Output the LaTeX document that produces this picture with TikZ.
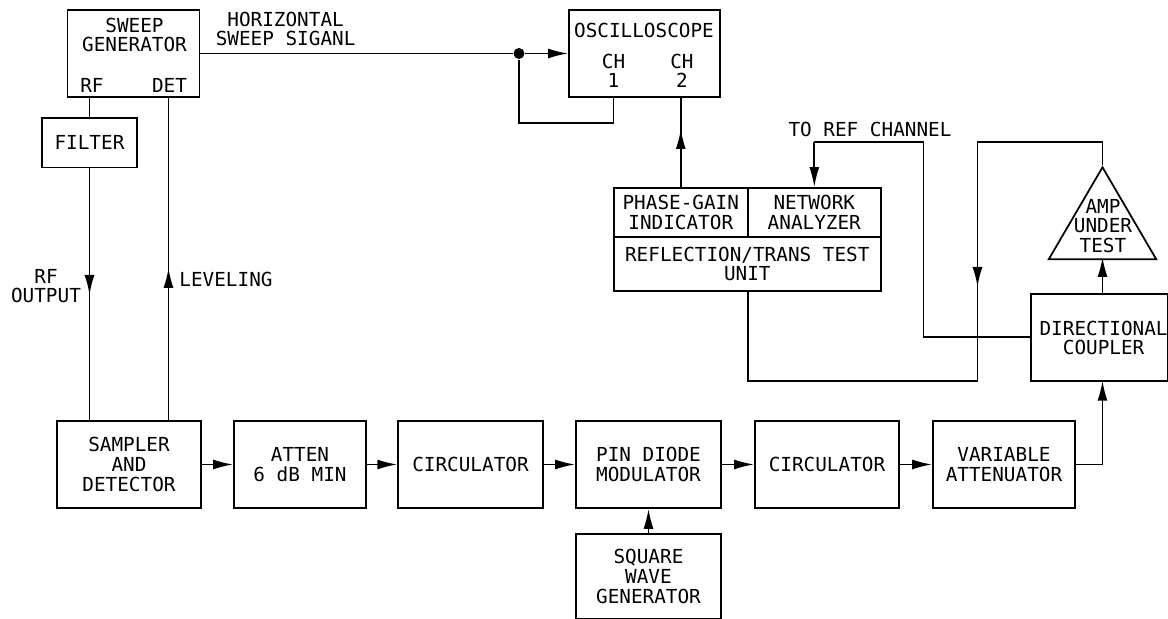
\documentclass[tikz,border=0pt]{standalone}
\usepackage{fontspec}
\setmainfont{DejaVu Sans Mono}
\usetikzlibrary{arrows.meta,positioning,shapes.geometric}
\tikzset{
  box/.style={draw,line width=.5pt,align=center,inner sep=0pt,font=\fontsize{5.5}{5.6}\selectfont},
  txt/.style={align=center,inner sep=0pt,font=\fontsize{5.5}{5.6}\selectfont},
  wire/.style={line width=.5pt},
  tip/.style={line width=.5pt,-{Latex[length=.2cm,width=.1cm]}},
  dot/.style={circle,fill=black,inner sep=0pt,minimum size=.11cm}
}
\begin{document}
\begin{tikzpicture}
\useasboundingbox (0,0) rectangle (11.68,6.19);
\node[box,minimum width=1.32cm,minimum height=.87cm] (sweep) at (1.336,5.655) {};
\node[txt] (sweeptxt) at (1.345,5.84) {SWEEP\\GENERATOR};
\node[txt] (rf) at (.92,5.34) {RF};
\node[txt] (det) at (1.695,5.34) {DET};
\node[box,minimum width=.95cm,minimum height=.495cm] (filter) at (.895,4.7625) {FILTER};
\node[box,minimum width=1.51cm,minimum height=.87cm] (osc) at (6.445,5.655) {};
\node[txt] (osctxt) at (6.44,5.89) {OSCILLOSCOPE};
\node[txt] (ch1) at (6.135,5.48) {CH\\1};
\node[txt] (ch2) at (6.82,5.48) {CH\\2};
\node[dot] (branch) at (5.19,5.655) {};
\node[txt] (horiz) at (2.856,5.90) {HORIZONTAL\\SWEEP SIGANL};
\node[txt] (rfout) at (.46,3.33) {RF\\OUTPUT};
\node[txt] (level) at (2.26,3.40) {LEVELING};
\node[txt] (toref) at (8.70,4.90) {TO REF CHANNEL};
\node[box,minimum width=1.34cm,minimum height=.487cm] (phase) at (6.808,4.0665) {PHASE-GAIN\\INDICATOR};
\node[box,minimum width=1.33cm,minimum height=.487cm] (net) at (8.143,4.0665) {NETWORK\\ANALYZER};
\node[box,minimum width=2.67cm,minimum height=.543cm] (test) at (7.473,3.5515) {REFLECTION/TRANS TEST\\UNIT};
\node[draw,line width=.5pt,isosceles triangle,shape border rotate=90,isosceles triangle stretches,minimum width=1.075cm,minimum height=.92cm,inner sep=0pt,anchor=apex] (amp) at (11.025,4.54) {};
\node[txt] (amptxt) at (11.03,3.93) {AMP\\UNDER\\TEST};
\node[box,minimum width=1.365cm,minimum height=.867cm] (coupler) at (10.995,2.8165) {};
\node[txt] (couplertxt) at (11.036,2.81) {DIRECTIONAL\\COUPLER};
\node[box,minimum width=1.44cm,minimum height=.87cm] (sampler) at (1.29,1.545) {SAMPLER\\AND\\DETECTOR};
\node[box,minimum width=1.32cm,minimum height=.87cm] (atten) at (3.0,1.545) {ATTEN\\6 dB MIN};
\node[box,minimum width=1.445cm,minimum height=.87cm] (circa) at (4.705,1.545) {CIRCULATOR};
\node[box,minimum width=1.45cm,minimum height=.87cm] (pin) at (6.485,1.545) {PIN DIODE\\MODULATOR};
\node[box,minimum width=1.44cm,minimum height=.87cm] (circb) at (8.27,1.545) {CIRCULATOR};
\node[box,minimum width=1.42cm,minimum height=.87cm] (var) at (10.04,1.545) {VARIABLE\\ATTENUATOR};
\node[box,minimum width=1.45cm,minimum height=.842cm] (square) at (6.485,.426) {SQUARE\\WAVE\\GENERATOR};
\coordinate (rftop) at (.895,5.22);
\coordinate (rftip) at (.895,3.24);
\coordinate (rfbot) at (.895,1.98);
\coordinate (dettop) at (1.685,5.22);
\coordinate (dettip) at (1.685,3.51);
\coordinate (detbot) at (1.685,1.98);
\coordinate (loop) at (6.134,4.96);
\coordinate (chone) at (6.134,5.22);
\coordinate (chtip) at (6.808,4.90);
\coordinate (reftop) at (9.235,4.77);
\coordinate (refleft) at (8.143,4.77);
\coordinate (amptop) at (11.025,4.77);
\coordinate (ampbase) at (11.025,3.62);
\coordinate (retop) at (9.775,4.77);
\coordinate (retip) at (9.775,3.32);
\coordinate (rebot) at (9.775,2.383);
\coordinate (testbot) at (7.48,2.383);
\coordinate (varout) at (11.025,1.545);
\coordinate (coupin) at (11.025,2.383);
\coordinate (coupout) at (11.025,3.25);
\draw[wire] (rftop) -- (filter.north);
\draw[wire] (filter.south) -- (rfbot);
\draw[tip] (filter.south) -- (rftip);
\draw[wire] (dettop) -- (detbot);
\draw[tip] (detbot) -- (dettip);
\draw[wire] (sweep.east) -- (branch);
\draw[tip] (branch) -- (osc.west);
\draw[wire] (branch) |- (loop) -- (chone);
\draw[wire] (phase.north) -- (phase.north |- osc.south);
\draw[tip] (phase.north) -- (chtip);
\draw[wire] (coupler.west) -| (reftop) -- (refleft);
\draw[tip] (refleft) -- (net.north);
\draw[wire] (amp.apex) -- (amptop) -- (retop) -- (rebot) -- (testbot) -- (testbot |- test.south);
\draw[tip] (retop) -- (retip);
\draw[tip] (sampler) -- (atten);
\draw[tip] (atten) -- (circa);
\draw[tip] (circa) -- (pin);
\draw[tip] (pin) -- (circb);
\draw[tip] (circb) -- (var);
\draw[tip] (square) -- (pin);
\draw[wire] (var.east) -- (varout);
\draw[tip] (varout) -- (coupin);
\draw[tip] (coupout) -- (ampbase);
\end{tikzpicture}
\end{document}
